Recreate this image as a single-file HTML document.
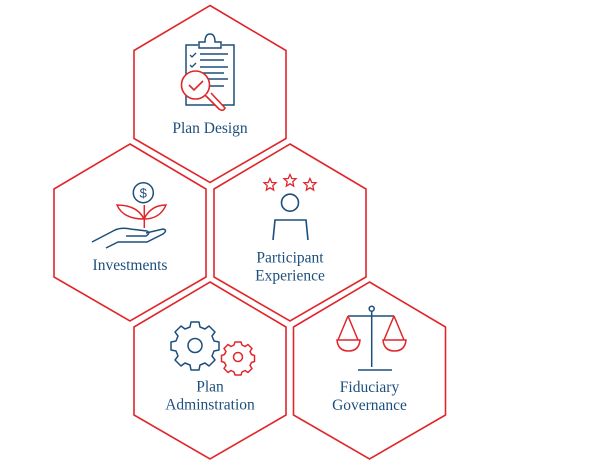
<!DOCTYPE html>
<html><head><meta charset="utf-8"><style>
html,body{margin:0;padding:0;background:#fff;width:600px;height:465px;overflow:hidden}
svg{display:block}
text{font-family:"Liberation Serif",serif;font-size:15.5px;fill:#1d4f7c;stroke:none;text-anchor:middle}
</style></head><body>
<svg width="600" height="465" viewBox="0 0 600 465" xmlns="http://www.w3.org/2000/svg">
<defs>
<polygon id="hx" points="0,0 76,45 76,133 0,177 -76,133 -76,45" fill="none" stroke="#e0262b" stroke-width="1.6"/>
<polygon id="st" points="0,-6 1.8,-2 6,-1.8 2.8,1.2 3.7,5.6 0,3.3 -3.7,5.6 -2.8,1.2 -6,-1.8 -1.8,-2" fill="none" stroke="#e0262b" stroke-width="1.3"/>
</defs>
<use href="#hx" x="210" y="5.5"/>
<use href="#hx" x="130" y="144"/>
<use href="#hx" x="290" y="144"/>
<use href="#hx" x="210" y="282"/>
<use href="#hx" x="369.5" y="282"/>

<!-- clipboard -->
<g fill="none" stroke="#1d4f7c" stroke-width="1.5">
<path d="M198,45 H186 V105 H234 V45 H222"/>
<path d="M199,48 V42 H205 Q205,34 210,34 Q215,34 215,42 H221 V48 Z"/>
<path d="M200,54 H228 M200,60 H224 M200,67 H228 M203,73 H224 M206,79 H228 M208,86 H224"/>
<path d="M190,55 l2,2 l4,-4 M190,65 l2,2 l4,-4" stroke-width="1.3"/>
</g>
<g fill="#fff" stroke="#e0262b" stroke-width="1.6">
<circle cx="195.5" cy="85" r="14"/>
<path d="M205,95 L219,109 Q223,112 225,108 L211,93" />
<path d="M189,85 l5,5 l9,-9" fill="none"/>
</g>
<text x="210" y="133">Plan Design</text>

<!-- investments -->
<g fill="none" stroke="#1d4f7c" stroke-width="1.5">
<circle cx="143.3" cy="192.7" r="10"/>
<path d="M92,242 L115,230 Q122,227 130,229 L147,231 Q151,233 146,236 L126,236"/>
<path d="M106,248 L118,242 L147,242 L163,234 Q168,230 163,229 L146,233"/>
</g>
<text x="143.3" y="197.5" style="font-size:13px;font-family:'Liberation Sans',sans-serif">$</text>
<g fill="none" stroke="#e0262b" stroke-width="1.5">
<path d="M144.3,205 V228"/>
<path d="M144,219 Q137,205 117,205 Q123,219 144,219"/>
<path d="M144,219 Q151,205 166,205 Q160,219 144,219"/>
</g>
<text x="130" y="270">Investments</text>

<!-- participant -->
<use href="#st" x="270" y="184.5"/>
<use href="#st" x="290" y="180.5"/>
<use href="#st" x="310" y="184.5"/>
<g fill="none" stroke="#1d4f7c" stroke-width="1.6">
<circle cx="290" cy="202.7" r="8.5"/>
<path d="M273,240 L275,220 H306 L308,240"/>
</g>
<text x="290" y="262.5">Participant</text>
<text x="290" y="280.5">Experience</text>

<!-- gears -->
<g fill="none" stroke-width="1.5" stroke-linejoin="round">
<path stroke="#1d4f7c" d="M191,322 h8 l1,5 l5,2 l4,-3 l6,6 l-3,4 l2,5 l5,1 v8 l-5,1 l-2,5 l3,4 l-6,6 l-4,-3 l-5,2 l-1,5 h-8 l-1,-5 l-5,-2 l-4,3 l-6,-6 l3,-4 l-2,-5 l-5,-1 v-8 l5,-1 l2,-5 l-3,-4 l6,-6 l4,3 l5,-2 z"/>
<circle stroke="#1d4f7c" cx="195" cy="345.5" r="7"/>
<path stroke="#e0262b" d="M235,342 h6 l1,3 l3,1.5 l3,-2 l4,4 l-2,3 l1.5,3 l3,1 v6 l-3,1 l-1.5,3 l2,3 l-4,4 l-3,-2 l-3,1.5 l-1,3 h-6 l-1,-3 l-3,-1.5 l-3,2 l-4,-4 l2,-3 l-1.5,-3 l-3,-1 v-6 l3,-1 l1.5,-3 l-2,-3 l4,-4 l3,2 l3,-1.5 z"/>
<circle stroke="#e0262b" cx="238" cy="357" r="4.5"/>
</g>
<text x="210" y="391.5">Plan</text>
<text x="210" y="409.5">Adminstration</text>

<!-- scales -->
<g fill="none" stroke="#1d4f7c" stroke-width="1.5">
<circle cx="371.7" cy="308.7" r="2.5"/>
<path d="M371.7,311 V367 M348,316 H394 M358,370 H392"/>
</g>
<g fill="none" stroke="#e0262b" stroke-width="1.5">
<path d="M348,316 L338,340 M348,316 L358,340 M337,340 H360 Q359,351 348.5,351 Q338,351 337,340 Z"/>
<path d="M394,316 L384,340 M394,316 L404,340 M383,340 H406 Q405,351 394.5,351 Q384,351 383,340 Z"/>
</g>
<text x="369.5" y="392">Fiduciary</text>
<text x="369.5" y="410">Governance</text>
</svg>
</body></html>
